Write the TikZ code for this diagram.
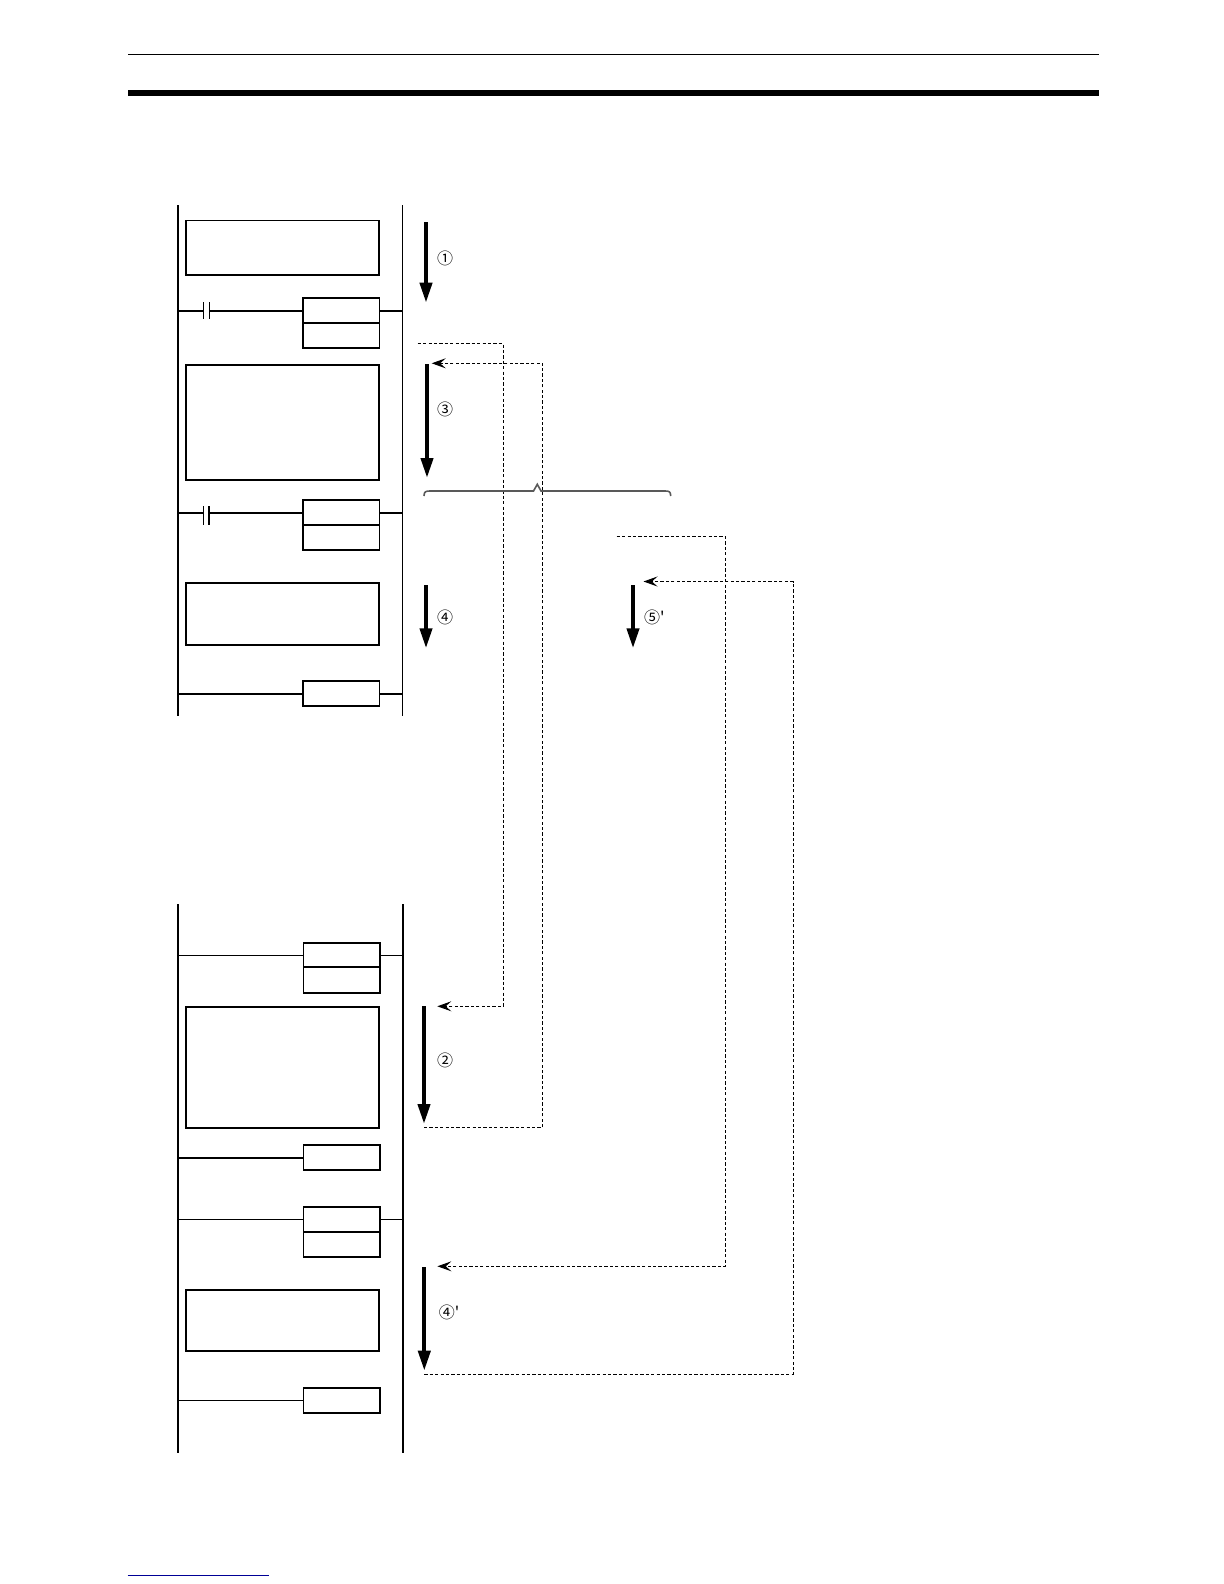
\documentclass[tikz,border=0pt]{standalone}
\usepackage{fontspec}
\newfontfamily\circfont{Noto Sans CJK JP}
\usetikzlibrary{arrows.meta,fit}
\tikzset{
  x=0.5pt,y=-0.5pt,
  pbox/.style={draw=black,line width=0.85pt,inner sep=0pt,outer sep=0pt,fill=white},
  thinrung/.style={line width=0.5pt,black},
  thickrung/.style={line width=1pt,black},
  railthick/.style={line width=1.1pt,black},
  railthin/.style={line width=0.65pt,black},
  flow/.style={line width=2pt,black,-{Triangle[length=10pt,width=6pt]}},
  jump/.style={line width=0.5pt,black,dash pattern=on 1.6pt off 1.1pt},
  jumpin/.style={jump,-{Stealth[length=7pt,width=5pt,inset=2.8pt]}},
  num/.style={font=\circfont\fontsize{8}{8}\selectfont,inner sep=0pt,black},
}
\newcommand{\pb}[5]{\node[pbox,fit={(#2,#3)(#4,#5)}] (#1) {};}
\begin{document}
\begin{tikzpicture}
\useasboundingbox (0,0) rectangle (1224,1584);
% page rules
\coordinate (tl) at (128,55); \coordinate (tr) at (1099,55);
\draw[line width=0.5pt,black] (tl) -- (tr);
\coordinate (bl) at (128,93); \coordinate (br) at (1099,93);
\draw[line width=3pt,black] (bl) -- (br);
\coordinate (fl) at (127.5,1575); \coordinate (fr) at (269,1575);
\draw[line width=0.5pt,color={rgb,255:red,0;green,0;blue,150}] (fl) -- (fr);

% upper ladder rails
\coordinate (LUt) at (178,205); \coordinate (LUb) at (178,716);
\coordinate (RUt) at (402.5,205); \coordinate (RUb) at (402.5,716);
\draw[railthick] (LUt) -- (LUb);
\draw[railthin] (RUt) -- (RUb);

% upper boxes
\pb{b1}{186}{220.5}{379}{275}
\pb{b2}{186}{365}{379}{480}
\pb{b3}{186}{582.7}{379}{645}
\pb{c1u}{303}{298.3}{379.5}{323.3}
\pb{c1l}{303}{323.3}{379.5}{348.3}
\pb{c2u}{303}{500.3}{379.5}{525.3}
\pb{c2l}{303}{525.3}{379.5}{550.3}
\pb{c3}{303}{681.3}{379.5}{706}

% upper rungs with contacts
\coordinate (k1at) at (203.3,302); \coordinate (k1ab) at (203.3,319);
\coordinate (k1bt) at (209.3,302); \coordinate (k1bb) at (209.3,319);
\coordinate (k1m) at (203.3,310.8); \coordinate (k1n) at (209.3,310.8);
\draw[thinrung] (k1at) -- (k1ab);
\draw[thinrung] (k1bt) -- (k1bb);
\draw[thickrung] (LUb |- c1u.west) -- (k1m);
\draw[thickrung] (k1n) -- (c1u.west);
\draw[thickrung] (c1u.east) -- (RUb |- c1u.east);

\coordinate (k2at) at (203,506); \coordinate (k2ab) at (203,525);
\coordinate (k2bt) at (209.3,506); \coordinate (k2bb) at (209.3,525);
\coordinate (k2m) at (203,512.8); \coordinate (k2n) at (209.3,512.8);
\draw[thinrung] (k2at) -- (k2ab);
\draw[thickrung] (k2bt) -- (k2bb);
\draw[thickrung] (LUb |- c2u.west) -- (k2m);
\draw[thickrung] (k2n) -- (c2u.west);
\draw[thickrung] (c2u.east) -- (RUb |- c2u.east);

\draw[thickrung] (LUb |- c3.west) -- (c3.west);
\draw[thickrung] (c3.east) -- (RUb |- c3.east);

% lower ladder rails
\coordinate (LLt) at (178,904); \coordinate (LLb) at (178,1452.7);
\coordinate (RLt) at (403,904); \coordinate (RLb) at (403,1452.7);
\draw[railthick] (LLt) -- (LLb);
\draw[railthick] (RLt) -- (RLb);

% lower boxes
\pb{d1u}{303.5}{942.7}{379.7}{967.3}
\pb{d1l}{303.5}{967.3}{379.7}{993}
\pb{b4}{186}{1007}{379}{1128.3}
\pb{d2}{303.5}{1145.3}{379.7}{1170.3}
\pb{d3u}{303.5}{1206.7}{379.7}{1232.3}
\pb{d3l}{303.5}{1232.3}{379.7}{1257}
\pb{b5}{186}{1289.7}{379}{1351.3}
\pb{d4}{303.5}{1387.7}{379.7}{1413}

% lower rungs
\draw[thinrung] (LLb |- d1u.west) -- (d1u.west);
\draw[thinrung] (d1u.east) -- (RLb |- d1u.east);
\draw[thickrung] (LLb |- d2.west) -- (d2.west);
\draw[thinrung] (LLb |- d3u.west) -- (d3u.west);
\draw[thinrung] (d3u.east) -- (RLb |- d3u.east);
\draw[thinrung] (LLb |- d4.west) -- (d4.west);

% execution arrows
\coordinate (a1s) at (426,222); \coordinate (a1e) at (426,302.7);
\coordinate (a3s) at (427,364); \coordinate (a3e) at (427,478);
\coordinate (a4s) at (426,585); \coordinate (a4e) at (426,648.3);
\coordinate (a5s) at (633,585); \coordinate (a5e) at (633,648.3);
\coordinate (a2s) at (424,1006); \coordinate (a2e) at (424,1124);
\coordinate (a6s) at (424.3,1267); \coordinate (a6e) at (424.3,1370.7);
\draw[flow] (a1s) -- (a1e);
\draw[flow] (a3s) -- (a3e);
\draw[flow] (a4s) -- (a4e);
\draw[flow] (a5s) -- (a5e);
\draw[flow] (a2s) -- (a2e);
\draw[flow] (a6s) -- (a6e);

% numbers
\node[num] (n1) at (445,258.7) {①};
\node[num] (n3) at (445,409.5) {③};
\node[num] (n4) at (445,617.3) {④};
\node[num,anchor=west] (n5) at (643.7,617.3) {⑤'};
\node[num] (n2) at (445,1060.7) {②};
\node[num,anchor=west] (n6) at (438.5,1312.7) {④'};

% dashed jumps
\coordinate (j1s) at (417.7,343.7); \coordinate (j1c) at (503.3,343.7);
\coordinate (j1d) at (503.3,1006.3); \coordinate (j1e) at (437.3,1006.3);
\draw[jumpin] (j1s) -- (j1c) -- (j1d) -- (j1e);
\coordinate (j2s) at (424,1127.3); \coordinate (j2c) at (542.7,1127.3);
\coordinate (j2d) at (542.7,363.3); \coordinate (j2e) at (431.7,363.3);
\draw[jumpin] (j2s) -- (j2c) -- (j2d) -- (j2e);
\coordinate (j3s) at (616.7,536.3); \coordinate (j3c) at (725,536.3);
\coordinate (j3d) at (725,1266.3); \coordinate (j3e) at (437.4,1266.3);
\draw[jumpin] (j3s) -- (j3c) -- (j3d) -- (j3e);
\coordinate (j4s) at (424.3,1374); \coordinate (j4c) at (793,1374);
\coordinate (j4d) at (793,581.5); \coordinate (j4e) at (643.5,581.5);
\draw[jumpin] (j4s) -- (j4c) -- (j4d) -- (j4e);

% brace
\coordinate (brL) at (424,496); \coordinate (brR) at (670.7,496);
\coordinate (brT) at (537.3,484.3);
\draw[line width=0.8pt,color=black!65] (brL) .. controls (424,491.5) and (426,491) .. (430,491)
  -- (533.5,491) -- (brT) -- (541,491) -- (665,491)
  .. controls (669,491) and (670.7,491.5) .. (brR);
\end{tikzpicture}
\end{document}
